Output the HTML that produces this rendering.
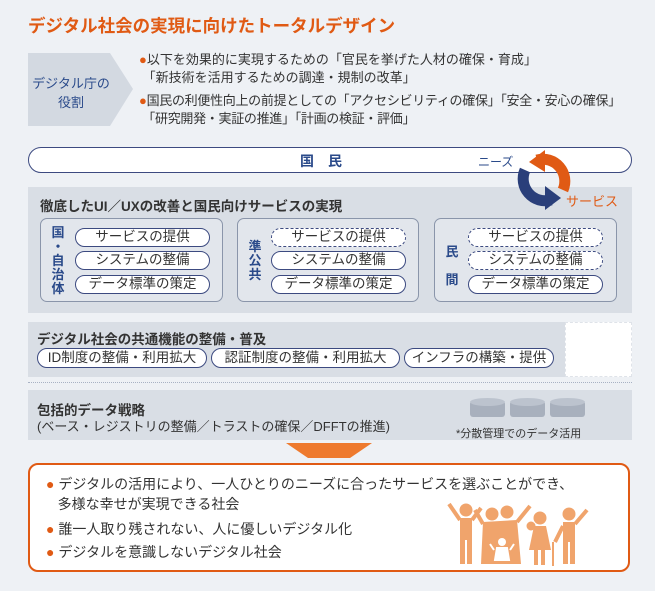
<!DOCTYPE html><html><head><meta charset="utf-8"><style>
*{margin:0;padding:0;box-sizing:border-box}
body{width:655px;height:591px;background:#eef1f5;font-family:"Liberation Sans","Noto Sans CJK JP",sans-serif;position:relative;overflow:hidden;color:#333}
.a{position:absolute;white-space:nowrap}
.pill{position:absolute;border:1.3px solid #3c4a80;background:#fff;border-radius:10px;text-align:center;font-size:13.5px;line-height:16px;color:#333}
.d{border-style:dashed}
.sub{position:absolute;border:1.5px solid #8a95aa;border-radius:7px;background:#e2e6ec}
.v{position:absolute;font-weight:bold;color:#2a4a8a;font-size:13px;line-height:14px;width:14px;text-align:center;white-space:normal}
.o{color:#e05a14}
</style></head><body>
<div class="a" style="left:28px;top:13px;font-size:17.5px;font-weight:bold;color:#e05a14">デジタル社会の実現に向けたトータルデザイン</div>
<svg class="a" style="left:28px;top:53px" width="110" height="73"><polygon points="0,0 82,0 105,36 82,73 0,73" fill="#d3d9e1"/></svg>
<div class="a" style="left:28px;top:74px;width:86px;text-align:center;font-size:13px;line-height:19px;color:#2a4a8a">デジタル庁の<br>役割</div>
<div class="a" style="left:139px;top:51px;font-size:13px;line-height:18px"><span class="o">●</span>以下を効果的に実現するための「官民を挙げた人材の確保・育成」<br>&nbsp;「新技術を活用するための調達・規制の改革」</div>
<div class="a" style="left:139px;top:92px;font-size:13px;line-height:18px;letter-spacing:-0.3px"><span class="o">●</span>国民の利便性向上の前提としての「アクセシビリティの確保」「安全・安心の確保」<br>&nbsp;「研究開発・実証の推進」「計画の検証・評価」</div>
<div class="a" style="left:28px;top:147px;width:604px;height:26px;border:1.5px solid #3c4a80;border-radius:13px;background:#fff"></div>
<div class="a" style="left:300px;top:151px;font-size:14px;font-weight:bold;color:#2a4a8a">国　民</div>
<div class="a" style="left:478px;top:153px;font-size:12px;color:#2a4a8a">ニーズ</div>
<div class="a" style="left:28px;top:187px;width:604px;height:126px;background:#d9dee5"></div>
<svg class="a" style="left:515px;top:148px" width="60" height="65">
<path d="M22,12 A22,22 0 0 1 48,42" stroke="#e05a14" stroke-width="11" fill="none"/><polygon points="14,14 30,2 30,24" fill="#e05a14"/>
<path d="M36,52 A22,22 0 0 1 10,22" stroke="#2a3f7a" stroke-width="11" fill="none"/><polygon points="46,50 30,38 30,62" fill="#2a3f7a"/></svg>
<div class="a" style="left:566px;top:191px;font-size:13px;color:#e05a14">サービス</div>
<div class="a" style="left:40px;top:195px;font-size:13.5px;font-weight:bold">徹底したUI／UXの改善と国民向けサービスの実現</div>
<div class="sub" style="left:40px;top:218px;width:183px;height:84px"></div>
<div class="sub" style="left:237px;top:218px;width:182px;height:84px"></div>
<div class="sub" style="left:434px;top:218px;width:183px;height:84px"></div>
<div class="v" style="left:51px;top:226px">国<br>・<br>自<br>治<br>体</div>
<div class="v" style="left:248px;top:240px">準<br>公<br>共</div>
<div class="v" style="left:445px;top:245px">民<br><br>間</div>
<div class="pill" style="left:75px;top:228px;width:135px;height:19px">サービスの提供</div>
<div class="pill" style="left:75px;top:251px;width:135px;height:19px">システムの整備</div>
<div class="pill" style="left:75px;top:275px;width:135px;height:19px">データ標準の策定</div>
<div class="pill d" style="left:271px;top:228px;width:135px;height:19px">サービスの提供</div>
<div class="pill" style="left:271px;top:251px;width:135px;height:19px">システムの整備</div>
<div class="pill" style="left:271px;top:275px;width:135px;height:19px">データ標準の策定</div>
<div class="pill d" style="left:468px;top:228px;width:135px;height:19px">サービスの提供</div>
<div class="pill d" style="left:468px;top:251px;width:135px;height:19px">システムの整備</div>
<div class="pill" style="left:468px;top:275px;width:135px;height:19px">データ標準の策定</div>
<div class="a" style="left:28px;top:322px;width:604px;height:55px;background:#d9dee5"></div>
<div class="a" style="left:565px;top:322px;width:67px;height:55px;background:#fff;border:1.5px dashed #dfe3e9"></div>
<div class="a" style="left:37px;top:328px;font-size:13.5px;font-weight:bold">デジタル社会の共通機能の整備・普及</div>
<div class="pill" style="left:37px;top:348px;width:170px;height:20px;font-size:13.5px;line-height:17px">ID制度の整備・利用拡大</div>
<div class="pill" style="left:211px;top:348px;width:189px;height:20px;font-size:13.5px;line-height:17px">認証制度の整備・利用拡大</div>
<div class="pill" style="left:404px;top:348px;width:150px;height:20px;font-size:13.5px;line-height:17px">インフラの構築・提供</div>
<div class="a" style="left:28px;top:382px;width:604px;border-top:1.5px dotted #a8b2c4"></div>
<div class="a" style="left:28px;top:390px;width:604px;height:50px;background:#d9dee5"></div>
<div class="a" style="left:37px;top:399px;font-size:13.5px;font-weight:bold">包括的データ戦略</div>
<div class="a" style="left:37px;top:416px;font-size:13px">(ベース・レジストリの整備／トラストの確保／DFFTの推進)</div>
<svg class="a" style="left:468px;top:396px" width="120" height="26">
<g fill="#a8b0bd"><rect x="2" y="5" width="35" height="16" rx="3"/><rect x="42" y="5" width="35" height="16" rx="3"/><rect x="82" y="5" width="35" height="16" rx="3"/></g>
<g fill="#bcc3ce"><ellipse cx="19.5" cy="6" rx="17.5" ry="4"/><ellipse cx="59.5" cy="6" rx="17.5" ry="4"/><ellipse cx="99.5" cy="6" rx="17.5" ry="4"/></g></svg>
<div class="a" style="left:456px;top:425px;font-size:11px">*分散管理でのデータ活用</div>
<svg class="a" style="left:286px;top:443px" width="86" height="15"><polygon points="0,0 86,0 64,15 22,15" fill="#ee7a2e"/></svg>
<div class="a" style="left:28px;top:463px;width:602px;height:109px;border:2px solid #e05a14;border-radius:10px;background:#fff"></div>
<div class="a" style="left:46px;top:474px;font-size:14px;line-height:20px"><span class="o">●</span> デジタルの活用により、一人ひとりのニーズに合ったサービスを選ぶことができ、<br>&nbsp;&nbsp;&nbsp;多様な幸せが実現できる社会</div>
<div class="a" style="left:46px;top:519px;font-size:14px"><span class="o">●</span> 誰一人取り残されない、人に優しいデジタル化</div>
<div class="a" style="left:46px;top:542px;font-size:14px"><span class="o">●</span> デジタルを意識しないデジタル社会</div>
<svg class="a" style="left:445px;top:500px" width="145" height="68" fill="#f0a46c" stroke="#f0a46c">
<circle cx="21" cy="10" r="6"/><rect x="15" y="18" width="12" height="22" stroke="none"/><rect x="15" y="38" width="5" height="26" stroke="none"/><rect x="22" y="38" width="5" height="26" stroke="none"/><path d="M15,20 L4,4 M27,20 L36,8" stroke-width="4" fill="none"/>
<circle cx="47" cy="14" r="6"/><circle cx="62" cy="12" r="6"/><polygon points="38,22 72,20 76,64 36,64" stroke="none"/><path d="M38,24 L30,10 M72,22 L85,6" stroke-width="4" fill="none"/>
<circle cx="57" cy="42" r="4" fill="#fff" stroke="none"/><path d="M52,48 L62,48 L64,60 L50,60Z M49,50 L45,44 M65,50 L69,44" fill="#fff" stroke="#fff" stroke-width="2"/>
<circle cx="95" cy="18" r="6"/><circle cx="86" cy="26" r="4"/><polygon points="89,26 101,26 106,50 84,50" stroke="none"/><rect x="89" y="50" width="4" height="15" stroke="none"/><rect x="96" y="50" width="4" height="15" stroke="none"/>
<circle cx="124" cy="14" r="6"/><rect x="118" y="22" width="12" height="20" stroke="none"/><rect x="118" y="40" width="5" height="24" stroke="none"/><rect x="125" y="40" width="5" height="24" stroke="none"/><path d="M130,24 L142,10 M118,26 L110,42" stroke-width="4" fill="none"/><path d="M108,42 L108,66" stroke-width="2" fill="none"/>
</svg>
</body></html>
